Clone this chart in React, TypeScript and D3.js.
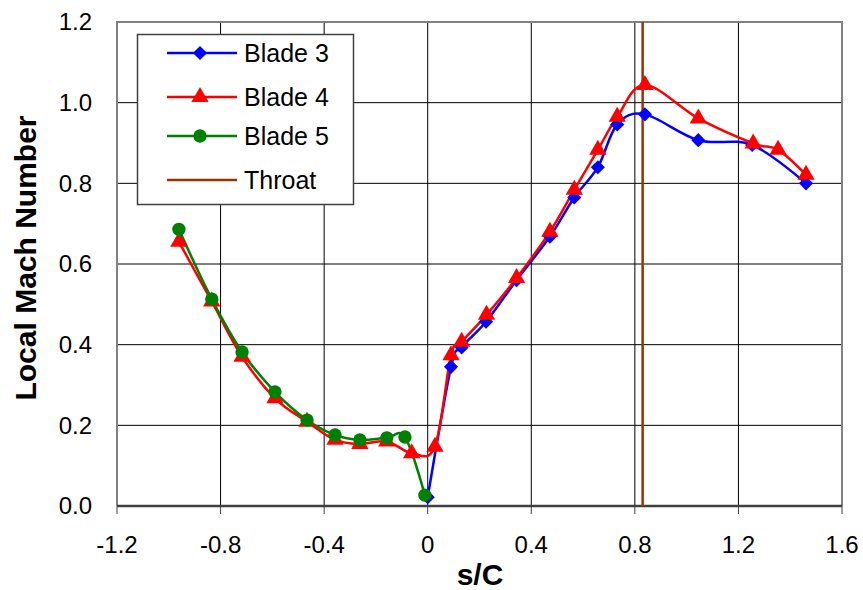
import React, { useEffect, useRef } from "react";
import * as d3 from "d3";

// s/C positions and local Mach numbers
const blade3X = [0.0, 0.09, 0.131, 0.225, 0.343, 0.472, 0.566, 0.657, 0.732, 0.839, 1.045, 1.253, 1.461];
const blade3Y = [0.022, 0.345, 0.393, 0.457, 0.56, 0.668, 0.765, 0.84, 0.946, 0.971, 0.907, 0.895, 0.8];

const blade4X = [
  -0.961, -0.834, -0.717, -0.59, -0.466, -0.358, -0.262, -0.158, -0.062, 0.028, 0.09, 0.131, 0.227,
  0.343, 0.472, 0.566, 0.657, 0.732, 0.839, 1.045, 1.257, 1.353, 1.461,
];
const blade4Y = [
  0.655, 0.507, 0.37, 0.267, 0.209, 0.164, 0.154, 0.16, 0.131, 0.147, 0.374, 0.407, 0.474, 0.565,
  0.68, 0.784, 0.883, 0.965, 1.044, 0.961, 0.899, 0.883, 0.821,
];

const blade5X = [-0.961, -0.834, -0.717, -0.59, -0.466, -0.358, -0.262, -0.158, -0.088, -0.011];
const blade5Y = [0.686, 0.513, 0.382, 0.283, 0.213, 0.176, 0.164, 0.169, 0.171, 0.027];

const throatX = 0.83;

const xTicks = [-1.2, -0.8, -0.4, 0, 0.4, 0.8, 1.2, 1.6];
const xTickLabels = ["-1.2", "-0.8", "-0.4", "0", "0.4", "0.8", "1.2", "1.6"];
const yTicks = [0, 0.2, 0.4, 0.6, 0.8, 1.0, 1.2];
const yTickLabels = ["0.0", "0.2", "0.4", "0.6", "0.8", "1.0", "1.2"];

const seriesNames = ["Blade 3", "Blade 4", "Blade 5", "Throat"];

const App = () => {
  const svgRef = useRef<SVGSVGElement>(null);

  useEffect(() => {
    document.body.style.margin = "0";
    const svg = d3.select(svgRef.current);
    svg.selectAll("*").remove();

    const width = 863,
      height = 590;
    const left = 117,
      right = 842,
      top = 22,
      bottom = 506;
    const font = "Liberation Sans, Arial, sans-serif";

    const x = d3.scaleLinear().domain([-1.2, 1.6]).range([left, right]);
    const y = d3.scaleLinear().domain([0, 1.2]).range([bottom, top]);

    svg.attr("width", width).attr("height", height);
    svg.append("rect").attr("width", width).attr("height", height).attr("fill", "#fff");

    // gridlines
    svg
      .selectAll("vgrid")
      .data(xTicks.slice(1, -1))
      .join("line")
      .attr("x1", (d) => x(d))
      .attr("x2", (d) => x(d))
      .attr("y1", top)
      .attr("y2", bottom)
      .attr("stroke", "#000")
      .attr("stroke-width", 1);
    svg
      .selectAll("hgrid")
      .data(yTicks.slice(1, -1))
      .join("line")
      .attr("x1", left)
      .attr("x2", right)
      .attr("y1", (d) => y(d))
      .attr("y2", (d) => y(d))
      .attr("stroke", "#000")
      .attr("stroke-width", 1);

    // plot border
    svg
      .append("path")
      .attr("d", `M${left},${bottom}V${top}H${right}V${bottom}`)
      .attr("fill", "none")
      .attr("stroke", "#808080")
      .attr("stroke-width", 2);

    // x axis line + ticks
    svg
      .append("line")
      .attr("x1", left)
      .attr("x2", right)
      .attr("y1", bottom)
      .attr("y2", bottom)
      .attr("stroke", "#404040")
      .attr("stroke-width", 2.5);
    svg
      .selectAll("xtick")
      .data(xTicks)
      .join("line")
      .attr("x1", (d) => x(d))
      .attr("x2", (d) => x(d))
      .attr("y1", bottom)
      .attr("y2", bottom + 8)
      .attr("stroke", "#404040")
      .attr("stroke-width", 1);

    svg
      .selectAll("xlabel")
      .data(xTicks)
      .join("text")
      .attr("x", (d) => x(d))
      .attr("y", 553)
      .attr("text-anchor", "middle")
      .style("font-family", font)
      .style("font-size", "24px")
      .text((d, i) => xTickLabels[i]);

    svg
      .selectAll("ylabel")
      .data(yTicks)
      .join("text")
      .attr("x", 92)
      .attr("y", (d) => y(d))
      .attr("dy", "0.35em")
      .attr("text-anchor", "end")
      .style("font-family", font)
      .style("font-size", "24px")
      .text((d, i) => yTickLabels[i]);

    svg
      .append("text")
      .attr("x", 480)
      .attr("y", 585)
      .attr("text-anchor", "middle")
      .style("font-family", font)
      .style("font-size", "30px")
      .style("font-weight", "bold")
      .text("s/C");

    svg
      .append("text")
      .attr("transform", "translate(36,258) rotate(-90)")
      .attr("text-anchor", "middle")
      .style("font-family", font)
      .style("font-size", "30px")
      .style("font-weight", "bold")
      .text("Local Mach Number");

    const series = [
      { xs: blade3X, ys: blade3Y, color: "#0000ff", marker: "diamond" },
      { xs: blade4X, ys: blade4Y, color: "#ff0000", marker: "triangle" },
      { xs: blade5X, ys: blade5Y, color: "#008000", marker: "circle" },
    ];

    const line = d3
      .line<[number, number]>()
      .x((d) => x(d[0]))
      .y((d) => y(d[1]))
      .curve(d3.curveCardinal.tension(0));

    const symbolFor = (m: string) => {
      if (m === "diamond") return d3.symbol().type(d3.symbolSquare).size(100)();
      if (m === "triangle") return d3.symbol().type(d3.symbolTriangle).size(130)();
      return d3.symbol().type(d3.symbolCircle).size(140)();
    };
    const rotFor = (m: string) => (m === "diamond" ? 45 : 0);

    series.forEach((s) => {
      const pts = s.xs.map((v, i) => [v, s.ys[i]] as [number, number]);
      svg
        .append("path")
        .attr("d", line(pts))
        .attr("fill", "none")
        .attr("stroke", s.color)
        .attr("stroke-width", 2.5);
    });

    // throat line
    svg
      .append("line")
      .attr("x1", x(throatX))
      .attr("x2", x(throatX))
      .attr("y1", top)
      .attr("y2", bottom)
      .attr("stroke", "#993300")
      .attr("stroke-width", 2.5);

    series.forEach((s) => {
      const pts = s.xs.map((v, i) => [v, s.ys[i]] as [number, number]);
      svg
        .selectAll("marks")
        .data(pts)
        .join("path")
        .attr("d", symbolFor(s.marker))
        .attr("transform", (d) => `translate(${x(d[0])},${y(d[1])}) rotate(${rotFor(s.marker)})`)
        .attr("fill", s.color);
    });

    // legend
    const lg = svg.append("g");
    lg.append("rect")
      .attr("x", 137.5)
      .attr("y", 34.5)
      .attr("width", 216)
      .attr("height", 170)
      .attr("fill", "#fff")
      .attr("stroke", "#404040")
      .attr("stroke-width", 1.5);
    const legendItems = [
      { color: "#0000ff", marker: "diamond" },
      { color: "#ff0000", marker: "triangle" },
      { color: "#008000", marker: "circle" },
      { color: "#993300", marker: "" },
    ];
    const rowY = [53, 97, 136, 180];
    legendItems.forEach((it, i) => {
      lg.append("line")
        .attr("x1", 167)
        .attr("x2", 237)
        .attr("y1", rowY[i])
        .attr("y2", rowY[i])
        .attr("stroke", it.color)
        .attr("stroke-width", 2.5);
      if (it.marker) {
        lg.append("path")
          .attr("d", symbolFor(it.marker))
          .attr("transform", `translate(200,${rowY[i]}) rotate(${rotFor(it.marker)})`)
          .attr("fill", it.color);
      }
      lg.append("text")
        .attr("x", 244)
        .attr("y", rowY[i])
        .attr("dy", "0.36em")
        .style("font-family", font)
        .style("font-size", "25px")
        .text(seriesNames[i]);
    });
  }, []);

  return <svg ref={svgRef} style={{ display: "block" }} />;
};

export default App;
